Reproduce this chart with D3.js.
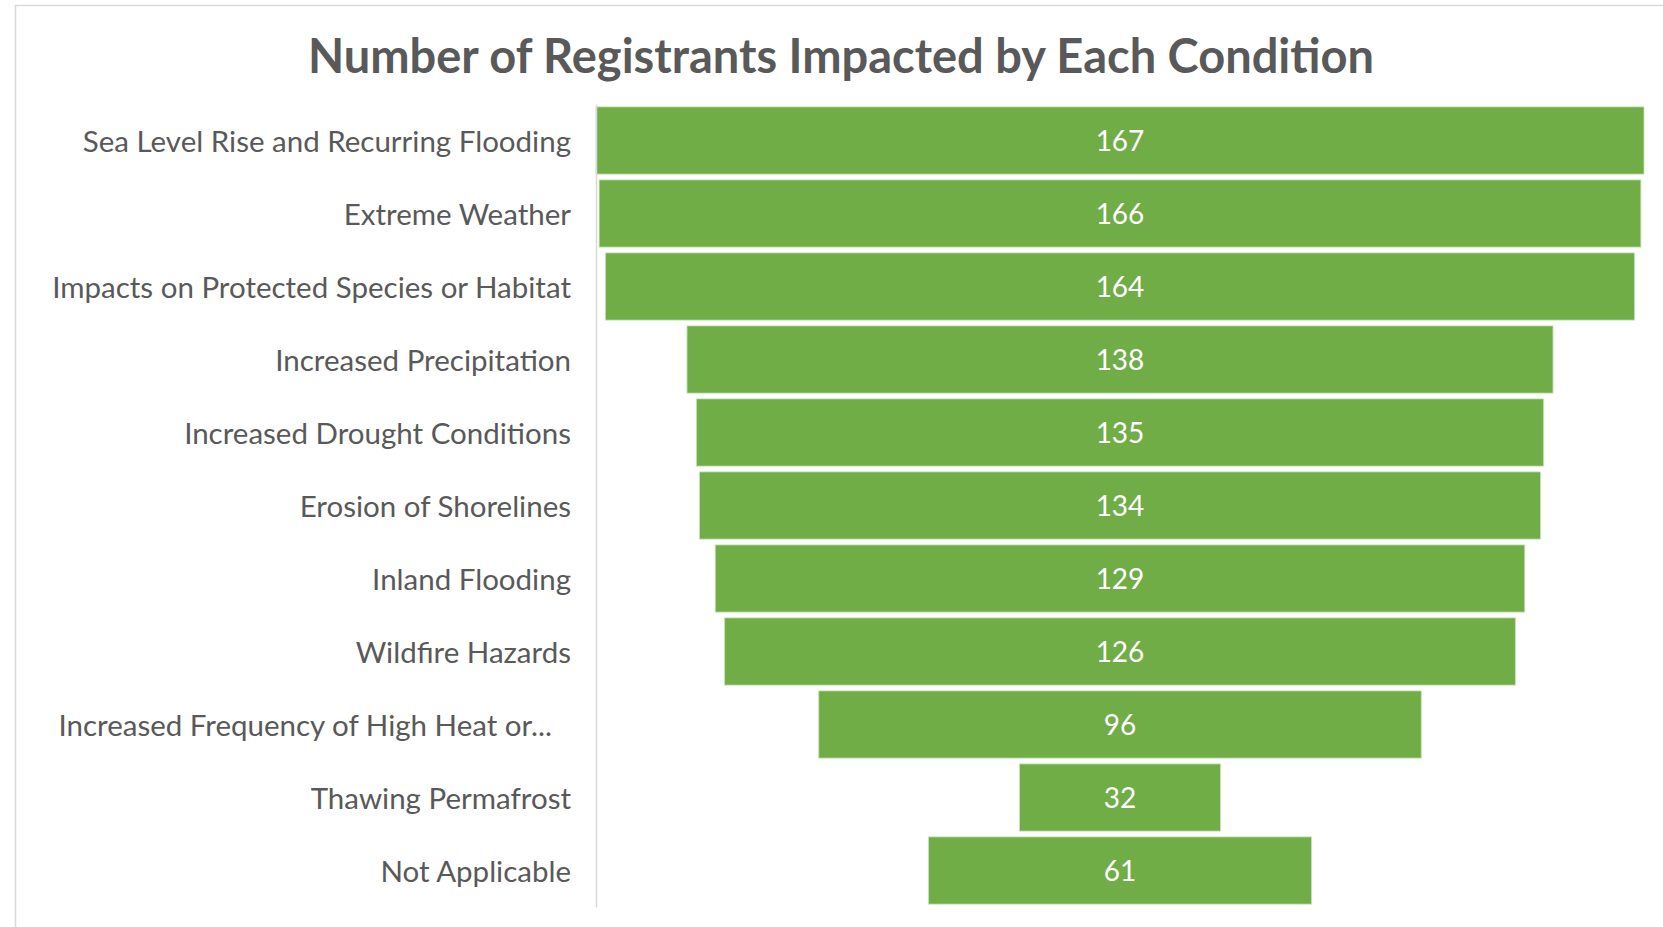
<!DOCTYPE html>
<html>
<head>
<meta charset="utf-8">
<script src="https://cdn.jsdelivr.net/npm/d3@7"></script>
<style>
  body { margin: 0; background: #fff; }
  svg { display: block; font-family: Lato, 'Open Sans', sans-serif; }
</style>
</head>
<body>
<svg width="1663" height="927"></svg>
<script>

let categories = [
    'Sea Level Rise and Recurring Flooding',
    'Extreme Weather',
    'Impacts on Protected Species or Habitat',
    'Increased Precipitation',
    'Increased Drought Conditions',
    'Erosion of Shorelines',
    'Inland Flooding',
    'Wildfire Hazards',
    'Increased Frequency of High Heat or...',
    'Thawing Permafrost',
    'Not Applicable'
];
let counts = [167, 166, 164, 138, 135, 134, 129, 126, 96, 32, 61];

let title = 'Number of Registrants Impacted by Each Condition';


let svg = d3.select('svg');
let width = +svg.attr('width');
let height = +svg.attr('height');
let margin = { top: 104, right: 19, bottom: 20, left: 596 };

// chart frame (runs off the right and bottom edges like the source crop)
svg.append('rect')
    .attr('x', 15.5)
    .attr('y', 5.5)
    .attr('width', width + 20)
    .attr('height', height + 20)
    .attr('fill', '#fff')
    .attr('stroke', '#d9d9d9')
    .attr('stroke-width', 1.5);

svg.append('text')
    .attr('x', 841)
    .attr('y', 73)
    .attr('text-anchor', 'middle')
    .attr('fill', '#595959')
    .attr('font-weight', 'bold')
    .attr('font-size', 47)
    .text(title);


let y = d3.scaleBand()
    .domain(categories)
    .range([margin.top, height - margin.bottom])
    .paddingInner(0.08)
    .paddingOuter(0.04);

let x = d3.scaleLinear()
    .domain([0, d3.max(counts)])
    .range([0, width - margin.right - margin.left]);

let cx = (margin.left + width - margin.right) / 2;

let rows = categories.map((c, i) => ({ name: c, value: counts[i] }));


let bar = svg.selectAll('g.bar')
    .data(rows)
    .enter().append('g')
    .attr('class', 'bar')
    .attr('transform', d => 'translate(0,' + y(d.name) + ')');

bar.append('rect')
    .attr('x', d => cx - x(d.value) / 2)
    .attr('width', d => x(d.value))
    .attr('height', y.bandwidth())
    .attr('fill', '#70ad47')
    .attr('stroke', '#c5e0b4')
    .attr('stroke-width', 0.8);

bar.append('text')
    .attr('x', cx)
    .attr('y', y.bandwidth() / 2)
    .attr('dy', '0.36em')
    .attr('text-anchor', 'middle')
    .attr('fill', '#fff')
    .attr('font-size', 28)
    .text(d => d.value);


let axis = svg.append('g')
    .attr('transform', 'translate(' + margin.left + ',0)')
    .call(d3.axisLeft(y).tickSize(0).tickPadding(25));

axis.select('.domain')
    .attr('stroke', '#d9d9d9')
    .attr('stroke-width', 1.5);

axis.selectAll('.tick text')
    .attr('fill', '#595959')
    .attr('font-size', 29.5)
    .attr('font-family', 'Lato, sans-serif')
    .attr('dy', '0.38em')
    // truncated labels sit a little further in, as in the source
    .attr('dx', d => d.endsWith('...') ? -19 : 0);

</script>
</body>
</html>
